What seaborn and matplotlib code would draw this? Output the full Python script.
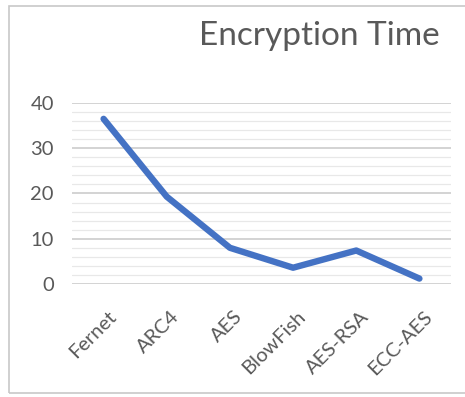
import matplotlib
matplotlib.use("Agg")
import matplotlib.pyplot as plt
import matplotlib.transforms as mtransforms
import seaborn as sns
import pandas as pd
from matplotlib.patches import Rectangle
from matplotlib.ticker import MultipleLocator

categories = ["Fernet", "ARC4", "AES", "BlowFish", "AES-RSA", "ECC-AES"]
times = [36.5, 19.3, 8.0, 3.6, 7.4, 1.2]
yticks = [0, 10, 20, 30, 40]

df = pd.DataFrame({"Algorithm": categories, "Time": times})

sns.set_theme(style="white")
plt.rcParams["font.family"] = ["Lato", "DejaVu Sans"]

fig = plt.figure(figsize=(4.65, 3.97), dpi=100)
# chart frame (Excel chart area border)
frame = Rectangle((9 / 465, 1 - 393 / 397), 1.2, (393 - 6) / 397,
                  transform=fig.transFigure, facecolor="none",
                  edgecolor="#c8c8c8", linewidth=1.2, zorder=-5)
fig.patches.append(frame)

ax = fig.add_axes([72 / 465, 1 - 284 / 397, (451 - 72) / 465, (284 - 103) / 397])
ax.set_facecolor("none")
ax.set_zorder(2)

sns.lineplot(data=df, x="Algorithm", y="Time", ax=ax, color="#4472C4",
             linewidth=4.6, sort=False, solid_capstyle="round",
             solid_joinstyle="round", zorder=3)

ax.set_xlim(-0.5, len(categories) - 0.5)
ax.set_ylim(0, 40)
ax.set_yticks(yticks)
ax.yaxis.set_minor_locator(MultipleLocator(2))
ax.grid(which="major", axis="y", color="#cccccc", linewidth=1.2)
ax.grid(which="minor", axis="y", color="#e8e8e8", linewidth=0.9)
ax.grid(axis="x", visible=False)
for s in ax.spines.values():
    s.set_visible(False)
ax.tick_params(axis="both", which="both", length=0, colors="#595959", labelsize=14.5)
ax.tick_params(axis="y", pad=13)
ax.set_xticks(range(len(categories)))
ax.set_xticklabels(categories, rotation=45, ha="right", va="top",
                   rotation_mode="anchor", fontsize=14.5, color="#595959")
ax.tick_params(axis="x", pad=17)
shift = mtransforms.ScaledTranslation(4 / 100, 0, fig.dpi_scale_trans)
for lbl in ax.get_xticklabels():
    lbl.set_transform(lbl.get_transform() + shift)
ax.set_xlabel("")
ax.set_ylabel("")

fig.text(319 / 465, 1 - 36 / 397, "Encryption Time", ha="center", va="center",
         fontsize=24, color="#595959")

fig.savefig("out.png", dpi=100)
